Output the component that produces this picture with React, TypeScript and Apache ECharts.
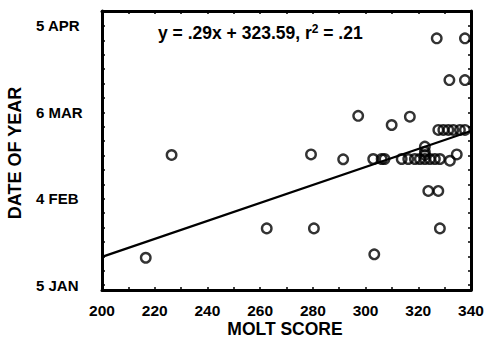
import React, { useEffect, useRef } from "react";
import * as echarts from "echarts";

const moltScore = [
  216.6, 226.4, 262.5, 279.3, 280.4, 291.5, 297.2, 303.3, 302.9, 306.1,
  307.2, 309.9, 313.7, 316.2, 316.8, 318.7, 320.6, 322.5, 322.5, 322.5,
  322.5, 324.4, 326.3, 328.2, 332.0, 334.6, 327.6, 329.5, 331.4, 333.3,
  335.8, 337.7, 327.0, 337.7, 331.8, 337.7, 323.8, 327.6, 328.2,
];
const dayOfYear = [
  14.5, 50.2, 24.7, 50.4, 24.7, 48.7, 63.8, 15.7, 48.8, 48.8,
  48.8, 60.6, 48.8, 48.8, 63.5, 48.8, 48.8, 48.8, 50.2, 51.3,
  53.1, 48.8, 48.8, 48.8, 48.2, 50.4, 58.9, 58.9, 58.9, 58.9,
  58.9, 58.9, 90.7, 90.7, 76.2, 76.2, 37.7, 37.7, 24.7,
];
const fitX = [200, 340];
const fitY = [14.8, 58.5];
const yTickDays = [5, 35, 65, 95];
const yTickLabels = ["5 JAN", "4 FEB", "6 MAR", "5 APR"];
const yMinorTicks = [5, 10, 15, 20, 25, 30, 35, 40, 45, 50, 55, 60, 65, 70, 75, 80, 85, 90, 95, 100];
const equation = "y = .29x + 323.59, r{sup|2} = .21";
const xTitle = "MOLT SCORE";
const yTitle = "DATE OF YEAR";

const FONT = "'Liberation Sans', Arial, sans-serif";

export default function App() {
  const ref = useRef<HTMLDivElement>(null);
  useEffect(() => {
    if (!ref.current) return;
    document.body.style.margin = "0";
    const chart = echarts.init(ref.current, null, { renderer: "svg" });
    const yLabelMap: Record<number, string> = {};
    yTickDays.forEach((d, i) => (yLabelMap[d] = yTickLabels[i]));
    const xBase = {
      type: "value",
      min: 200,
      max: 340,
      interval: 20,
      splitLine: { show: false },
      axisLine: { show: true, onZero: false, lineStyle: { color: "#000", width: 3 } },
      axisTick: { show: true, inside: true, length: 3, lineStyle: { color: "#000", width: 1.5 } },
      minorTick: { show: true, splitNumber: 2, length: 3, lineStyle: { color: "#000", width: 1.5 } },
    };
    const yBase = {
      type: "value",
      min: 3.3,
      max: 100.2,
      splitLine: { show: false },
      axisLine: { show: true, onZero: false, lineStyle: { color: "#000", width: 3 } },
      axisTick: {
        show: true,
        inside: true,
        length: 3,
        customValues: yMinorTicks,
        lineStyle: { color: "#000", width: 1.5 },
      },
    };
    chart.setOption({
      animation: false,
      backgroundColor: "#fff",
      grid: {
        left: 102,
        right: 17,
        top: 11,
        bottom: 49,
        containLabel: false,
        outerBoundsMode: "none",
      },
      xAxis: [
        {
          ...xBase,
          position: "bottom",
          axisLabel: {
            show: true,
            margin: 12,
            fontFamily: FONT,
            fontSize: 15.5,
            fontWeight: "bold",
            color: "#000",
          },
        },
        { ...xBase, position: "top", axisLabel: { show: false } },
      ],
      yAxis: [
        {
          ...yBase,
          position: "left",
          axisLabel: {
            show: true,
            customValues: yTickDays,
            formatter: (v: number) => yLabelMap[v] ?? "",
            align: "left",
            margin: 66,
            fontFamily: FONT,
            fontSize: 15,
            fontWeight: "bold",
            color: "#000",
          },
        },
        { ...yBase, position: "right", axisLabel: { show: false } },
      ],
      graphic: [
        {
          type: "text",
          left: 158,
          top: 23,
          style: {
            text: equation,
            fontFamily: FONT,
            fontSize: 17.5,
            fontWeight: "bold",
            fill: "#000",
            rich: {
              sup: {
                fontFamily: FONT,
                fontSize: 12,
                fontWeight: "bold",
                verticalAlign: "top",
                padding: [0, 0, 7, 0],
                fill: "#000",
              },
            },
          },
        },
        {
          type: "text",
          x: 285,
          y: 329,
          style: {
            text: xTitle,
            fontFamily: FONT,
            fontSize: 17.5,
            lineHeight: 17,
            fontWeight: "bold",
            fill: "#000",
            align: "center",
            verticalAlign: "middle",
          },
        },
        {
          type: "text",
          x: 15,
          y: 153,
          rotation: Math.PI / 2,
          style: {
            text: yTitle,
            fontFamily: FONT,
            fontSize: 18,
            lineHeight: 18,
            fontWeight: "bold",
            fill: "#000",
            align: "center",
            verticalAlign: "middle",
          },
        },
      ],
      series: [
        {
          type: "line",
          data: fitX.map((x, i) => [x, fitY[i]]),
          symbol: "none",
          lineStyle: { color: "#000", width: 2.2 },
          silent: true,
          z: 2,
        },
        {
          type: "scatter",
          data: moltScore.map((x, i) => [x, dayOfYear[i]]),
          symbol: "circle",
          symbolSize: 9.5,
          itemStyle: { color: "rgba(0,0,0,0)", borderColor: "#000", borderWidth: 2.4 },
          z: 3,
        },
      ],
    });
    return () => chart.dispose();
  }, []);
  return <div ref={ref} style={{ width: 488, height: 339 }} />;
}
